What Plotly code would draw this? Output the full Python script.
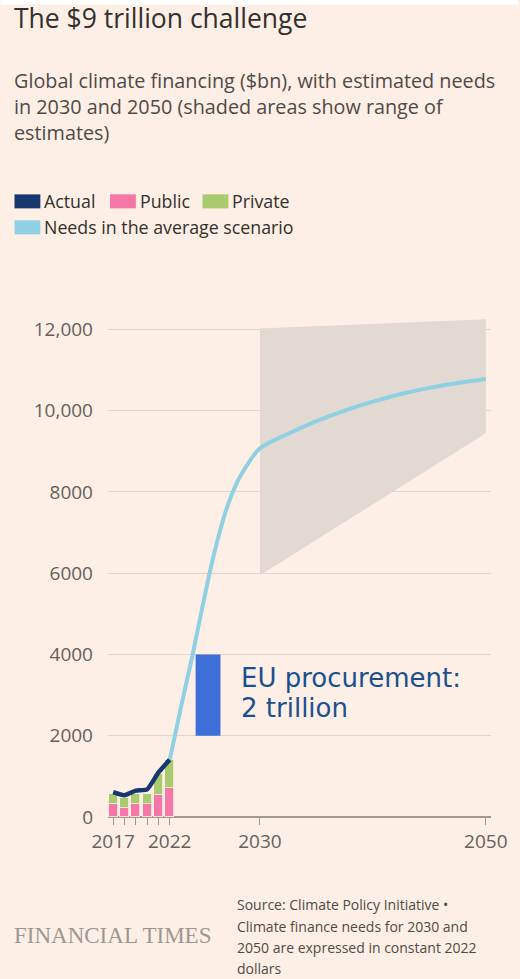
import plotly.graph_objects as go

# ---- data ----
years = [2017, 2018, 2019, 2020, 2021, 2022]
public = [310, 230, 310, 310, 550, 710]
private = [265, 240, 250, 250, 520, 690]
actual = [610, 535, 650, 680, 1090, 1410]

need_years = [2022, 2023, 2024, 2025, 2026, 2027, 2028, 2029, 2030, 2032.5, 2035,
              2037.5, 2040, 2042.5, 2045, 2047.5, 2050]
need_vals = [1400, 2700, 3950, 5300, 6550, 7550, 8250, 8720, 9070, 9430, 9740,
             10000, 10220, 10410, 10560, 10680, 10780]

range_years = [2030, 2050]
range_high = [12020, 12250]
range_low = [5950, 9440]

eu_years = [2024.3, 2026.5]
eu_range = [2000, 4000]

xtick_vals = [2017, 2018, 2019, 2020, 2021, 2022, 2030, 2050]
xtick_text = ["2017", "", "", "", "", "2022", "2030", "2050"]
ytick_vals = [0, 2000, 4000, 6000, 8000, 10000, 12000]
ytick_text = ["0", "2000", "4000", "6000", "8000", "10,000", "12,000"]

# ---- style ----
BG = "#fdefe5"
PINK = "#f577a8"
GREEN = "#a9ca6e"
NAVY = "#17386e"
LIGHTBLUE = "#8fd0e2"
SHADE = "#e2d9d3"
EUBLUE = "#3e6fd8"
EUTEXT = "#1b4f8f"
TXT = "#33302e"
SUB = "#4f4a47"
TICK = "#66605c"
FONT = "Open Sans"

W, H = 520, 979
L, R_, T, B = 108, 493, 308.7, 817
pw, ph = R_ - L, B - T


def px(x):
    return (x - L) / pw


def py(y):
    return (B - y) / ph


fig = go.Figure()

# shaded range
fig.add_trace(go.Scatter(x=range_years, y=range_low, mode="lines",
                         line=dict(width=0, color=SHADE), hoverinfo="skip",
                         showlegend=False))
fig.add_trace(go.Scatter(x=range_years, y=range_high, mode="lines",
                         line=dict(width=0, color=SHADE), fill="tonexty",
                         fillcolor=SHADE, hoverinfo="skip", showlegend=False))

# bars
fig.add_trace(go.Bar(x=years, y=public, marker=dict(color=PINK, line=dict(width=0.8, color=BG)),
                     width=0.8, showlegend=False))
fig.add_trace(go.Bar(x=years, y=private, marker=dict(color=GREEN, line=dict(width=0.8, color=BG)),
                     width=0.8, showlegend=False))

# needs line
fig.add_trace(go.Scatter(x=need_years, y=need_vals, mode="lines",
                         line=dict(color=LIGHTBLUE, width=4, shape="spline", smoothing=1.0),
                         showlegend=False))
# actual line
fig.add_trace(go.Scatter(x=years, y=actual, mode="lines",
                         line=dict(color=NAVY, width=4.5, shape="spline", smoothing=0.5),
                         showlegend=False))

shapes = []
# EU procurement bar
shapes.append(dict(type="rect", xref="x", yref="y", x0=eu_years[0], x1=eu_years[1],
                   y0=eu_range[0], y1=eu_range[1], fillcolor=EUBLUE, line=dict(width=0),
                   layer="above"))
# white top strip
shapes.append(dict(type="rect", xref="paper", yref="paper", x0=px(0), x1=px(W),
                   y0=py(4), y1=py(-2), fillcolor="#ffffff", line=dict(width=0)))

annotations = []


def text(x, y, s, size, color, family=FONT, xanchor="left", yanchor="middle"):
    annotations.append(dict(xref="paper", yref="paper", x=px(x), y=py(y), text=s,
                            showarrow=False, xanchor=xanchor, yanchor=yanchor,
                            font=dict(size=size, color=color, family=family)))


text(12, 18, "The $9 trillion challenge", 26.5, TXT)
text(12, 80, "Global climate financing ($bn), with estimated needs", 19.8, SUB)
text(12, 106, "in 2030 and 2050 (shaded areas show range of", 19.8, SUB)
text(12, 132, "estimates)", 19.8, SUB)

# legend
legend_items = [(14, 201, NAVY, "Actual"), (110, 201, PINK, "Public"),
                (203, 201, GREEN, "Private"), (14, 227, LIGHTBLUE, "Needs in the average scenario")]
for (lx, ly, col, lab) in legend_items:
    shapes.append(dict(type="rect", xref="paper", yref="paper", x0=px(lx), x1=px(lx + 26),
                       y0=py(ly + 7), y1=py(ly - 7), fillcolor=col, line=dict(width=0)))
    text(lx + 28, ly, lab, 17.8, TXT)

# EU label
text(240, 678, "EU procurement:", 26, EUTEXT, family="DejaVu Sans")
text(240, 708, "2 trillion", 26, EUTEXT, family="DejaVu Sans")

# footer
text(12, 936, "FINANCIAL TIMES", 23, "#9d9792", family="Liberation Serif")
src = ["Source: Climate Policy Initiative •", "Climate finance needs for 2030 and",
       "2050 are expressed in constant 2022", "dollars"]
for i, s in enumerate(src):
    text(236, 905 + i * 21.3, s, 14, SUB)

fig.update_layout(
    width=W, height=H,
    margin=dict(l=L, r=W - R_, t=T, b=H - B, pad=0),
    paper_bgcolor=BG, plot_bgcolor=BG,
    barmode="stack", bargap=0,
    showlegend=False,
    shapes=shapes, annotations=annotations,
    font=dict(family=FONT, color=TICK),
    xaxis=dict(range=[2016.54, 2050.46], tickmode="array", tickvals=xtick_vals,
               ticktext=xtick_text, ticks="outside", ticklen=7, tickcolor="#9f9893",
               tickwidth=1.3, showgrid=False, zeroline=False, showline=False,
               tickfont=dict(size=19, color=TICK, family=FONT), fixedrange=True),
    yaxis=dict(range=[0, 12500], tickmode="array", tickvals=ytick_vals,
               ticktext=ytick_text, showgrid=True, gridcolor="#e2d5cb", gridwidth=1.2,
               zeroline=True, zerolinecolor="#9f9893", zerolinewidth=1.5,
               ticks="", ticklabelstandoff=14,
               tickfont=dict(size=19, color=TICK, family=FONT), fixedrange=True),
)

fig.write_html("out.html")
